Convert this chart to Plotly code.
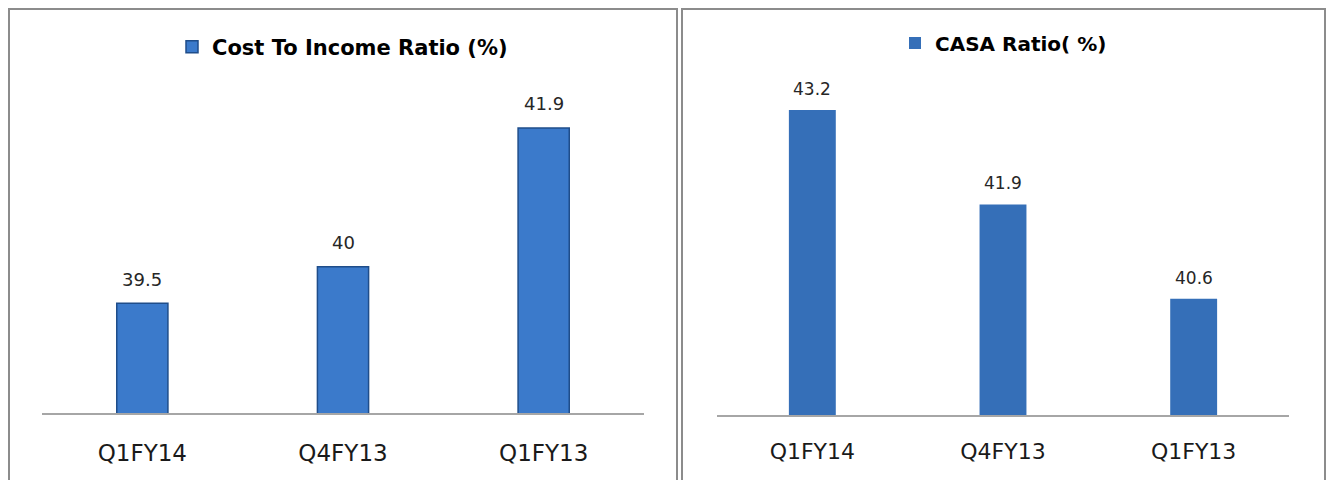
import plotly.graph_objects as go

categories = ["Q1FY14", "Q4FY13", "Q1FY13"]
cost_to_income = [39.5, 40, 41.9]
casa_ratio = [43.2, 41.9, 40.6]
left_label = "Cost To Income Ratio (%)"
right_label = "CASA Ratio( %)"

W, H = 1333, 480


def px_x(x):
    return x / W


def px_y(y):
    return 1 - y / H


fig = go.Figure()

fig.add_trace(go.Bar(
    x=categories, y=cost_to_income, name=left_label,
    xaxis="x", yaxis="y", legend="legend",
    marker=dict(color="#3b7acb", line=dict(color="#1f4d8a", width=1.5)),
    width=0.255, showlegend=True,
))
fig.add_trace(go.Bar(
    x=categories, y=casa_ratio, name=right_label,
    xaxis="x2", yaxis="y2", legend="legend2",
    marker=dict(color="#356fb8", line=dict(width=0)),
    width=0.246, showlegend=True,
))

annotations = []
for c, v in zip(categories, cost_to_income):
    annotations.append(dict(x=c, y=v, xref="x", yref="y", text=f"{v:g}",
                            showarrow=False, yanchor="middle", yshift=24,
                            font=dict(family="DejaVu Sans", size=18, color="#262626")))
for c, v in zip(categories, casa_ratio):
    annotations.append(dict(x=c, y=v, xref="x2", yref="y2", text=f"{v:g}",
                            showarrow=False, yanchor="middle", yshift=21,
                            font=dict(family="DejaVu Sans", size=17, color="#262626")))

border = dict(color="#8c8c8c", width=2)
shapes = [
    dict(type="rect", xref="paper", yref="paper",
         x0=px_x(9), x1=px_x(677), y0=px_y(490), y1=px_y(9), line=border),
    dict(type="rect", xref="paper", yref="paper",
         x0=px_x(682), x1=px_x(1325), y0=px_y(490), y1=px_y(9), line=border),
]

fig.update_layout(
    width=W, height=H,
    margin=dict(l=0, r=0, t=0, b=0),
    paper_bgcolor="white", plot_bgcolor="white",
    bargap=0.75,
    xaxis=dict(domain=[px_x(42), px_x(644)], anchor="y",
               tickfont=dict(family="DejaVu Sans", size=23, color="#1a1a1a"),
               ticklabelstandoff=19, showgrid=False, zeroline=False, showline=True,
               linecolor="#a6a6a6", linewidth=1.5),
    yaxis=dict(domain=[px_y(413), px_y(47.5)], range=[38, 43], anchor="x",
               visible=False),
    xaxis2=dict(domain=[px_x(717), px_x(1289)], anchor="y2",
                tickfont=dict(family="DejaVu Sans", size=22, color="#1a1a1a"),
                ticklabelstandoff=16, showgrid=False, zeroline=False, showline=True,
                linecolor="#a6a6a6", linewidth=1.5),
    yaxis2=dict(domain=[px_y(415), px_y(52)], range=[39, 44], anchor="x2",
                visible=False),
    legend=dict(x=px_x(172), y=px_y(47), xanchor="left", yanchor="middle",
                orientation="h", bgcolor="rgba(0,0,0,0)",
                font=dict(family="DejaVu Sans", size=21, color="#000000",
                          weight="bold")),
    legend2=dict(x=px_x(895), y=px_y(43), xanchor="left", yanchor="middle",
                 orientation="h", bgcolor="rgba(0,0,0,0)",
                 font=dict(family="DejaVu Sans", size=20, color="#000000",
                           weight="bold")),
    annotations=annotations,
    shapes=shapes,
)

fig.write_html("out.html")
